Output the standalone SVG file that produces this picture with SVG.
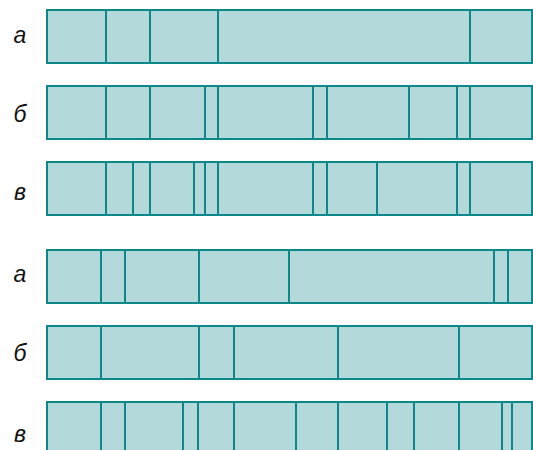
<svg xmlns="http://www.w3.org/2000/svg" width="533" height="450" viewBox="0 0 533 450">
<style>
.bar{fill:#b3d9db;stroke:#0e878b;stroke-width:2}
.d{stroke:#0e878b;stroke-width:2}
.lbl{font-family:"Liberation Sans",Arial,sans-serif;font-style:italic;font-size:23px;fill:#111;text-anchor:middle}
</style>
<rect width="533" height="450" fill="#fff"/>
<g id="row1a">
<text class="lbl" x="20" y="43">а</text>
<rect class="bar" x="47" y="10" width="485" height="53"/>
<path class="d" d="M106 10V63M150 10V63M218 10V63M470 10V63"/>
</g>
<g id="row1b">
<text class="lbl" x="20" y="122">б</text>
<rect class="bar" x="47" y="86" width="485" height="53"/>
<path class="d" d="M106 86V139M150 86V139M205 86V139M218 86V139M313 86V139M327 86V139M409 86V139M457 86V139M470 86V139"/>
</g>
<g id="row1c">
<text class="lbl" x="20" y="200">в</text>
<rect class="bar" x="47" y="162" width="485" height="53"/>
<path class="d" d="M106 162V215M133 162V215M150 162V215M194 162V215M205 162V215M218 162V215M313 162V215M327 162V215M377 162V215M457 162V215M470 162V215"/>
</g>
<g id="row2a">
<text class="lbl" x="20" y="282">а</text>
<rect class="bar" x="47" y="250" width="485" height="53"/>
<path class="d" d="M101 250V303M125 250V303M199 250V303M289 250V303M494 250V303M508 250V303"/>
</g>
<g id="row2b">
<text class="lbl" x="20" y="361">б</text>
<rect class="bar" x="47" y="326" width="485" height="53"/>
<path class="d" d="M101 326V379M199 326V379M234 326V379M338 326V379M459 326V379"/>
</g>
<g id="row2c">
<text class="lbl" x="20" y="442">в</text>
<rect class="bar" x="47" y="402" width="485" height="60"/>
<path class="d" d="M101 402V462M125 402V462M183 402V462M198 402V462M234 402V462M296 402V462M338 402V462M387 402V462M414 402V462M459 402V462M502 402V462M512 402V462"/>
</g>
</svg>
